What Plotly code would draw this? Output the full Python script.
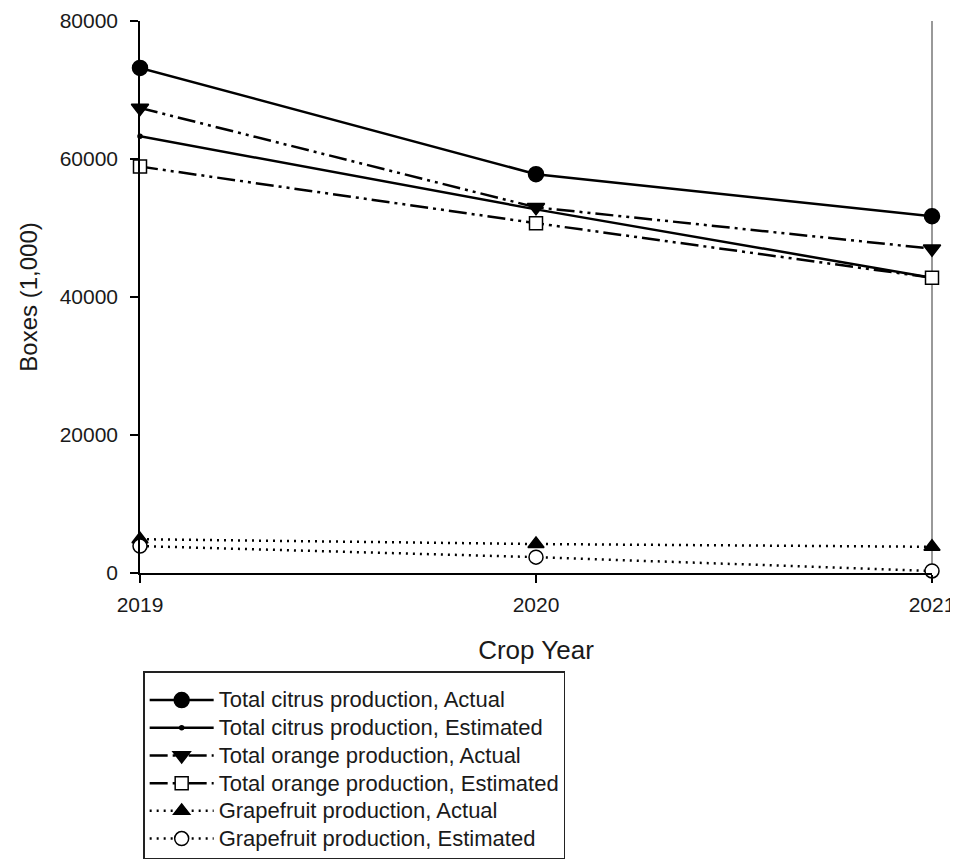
import plotly.graph_objects as go

years = [2019, 2020, 2021]
citrus_actual = [73200, 57800, 51700]
citrus_estimated = [63300, 52700, 42800]
orange_actual = [67400, 53000, 47000]
orange_estimated = [58900, 50700, 42800]
grapefruit_actual = [4900, 4200, 3800]
grapefruit_estimated = [3900, 2300, 300]
y_ticks = [0, 20000, 40000, 60000, 80000]

names = [
    "Total citrus production, Actual",
    "Total citrus production, Estimated",
    "Total orange production, Actual",
    "Total orange production, Estimated",
    "Grapefruit production, Actual",
    "Grapefruit production, Estimated",
]

DASHDOTDOT = "18px,5px,3px,5px,3px,5px"
DOT = "2px,5px"

styles = [
    dict(dash="solid", symbol="circle", size=15, color="black", lc="black"),
    dict(dash="solid", symbol="circle", size=4, color="black", lc="black"),
    dict(dash=DASHDOTDOT, symbol="triangle-down", size=15, color="black", lc="black"),
    dict(dash=DASHDOTDOT, symbol="square", size=13, color="white", lc="black"),
    dict(dash=DOT, symbol="triangle-up", size=14, color="black", lc="black"),
    dict(dash=DOT, symbol="circle", size=14, color="white", lc="black"),
]

series = [citrus_actual, citrus_estimated, orange_actual, orange_estimated,
          grapefruit_actual, grapefruit_estimated]

fig = go.Figure()
for i, (name, vals, st) in enumerate(zip(names, series, styles)):
    fig.add_trace(go.Scatter(
        x=years, y=vals,
        name=f"<span style='font-size:22px'>{name}</span>",
        mode="lines+markers",
        line=dict(color="black", width=2.5, dash=st["dash"]),
        marker=dict(symbol=st["symbol"], size=st["size"], color=st["color"],
                    line=dict(color=st["lc"], width=1.5)),
        cliponaxis=False, legendgroup=str(i),
    ))

font_family = "Liberation Sans, Arial, sans-serif"

# right frame line (gray in the reference)
fig.add_shape(type="line", xref="paper", yref="paper", x0=1, x1=1, y0=0, y1=1,
              line=dict(color="#777", width=1.5), layer="below")

# page body adds an 8px offset; size the figure to compensate
fig.update_layout(
    width=950, height=854,
    margin=dict(l=132, r=26, t=13, b=289, autoexpand=False),
    paper_bgcolor="white", plot_bgcolor="white",
    font=dict(family=font_family, size=21, color="#1a1a1a"),
    showlegend=True,
    legend=dict(
        x=0.004, y=-0.178, xanchor="left", yanchor="top",
        bordercolor="#222", borderwidth=1.5, bgcolor="white",
        font=dict(size=19), itemwidth=64, tracegroupgap=0,
        traceorder="normal",
        title=dict(text=" ", font=dict(size=6.5)),
    ),
    xaxis=dict(
        range=[2019, 2021], tickvals=years, ticktext=[str(y) for y in years],
        showgrid=False, zeroline=False, showline=True, linecolor="black", linewidth=1.5,
        ticks="outside", ticklen=8, tickwidth=1.5, tickcolor="black",
        ticklabelstandoff=4,
        title=dict(text="Crop Year", font=dict(size=26), standoff=26),
        automargin=False,
    ),
    yaxis=dict(
        range=[0, 80000], tickvals=y_ticks,
        ticktext=[str(v) for v in y_ticks],
        showgrid=False, zeroline=False, showline=True, linecolor="black", linewidth=1.5,
        ticks="outside", ticklen=8, tickwidth=1.5, tickcolor="black",
        ticklabelposition="outside", ticklabelstandoff=8,
        title=dict(text="Boxes (1,000)", font=dict(size=24), standoff=15),
        automargin=False,
    ),
)

fig.write_html("out.html")
